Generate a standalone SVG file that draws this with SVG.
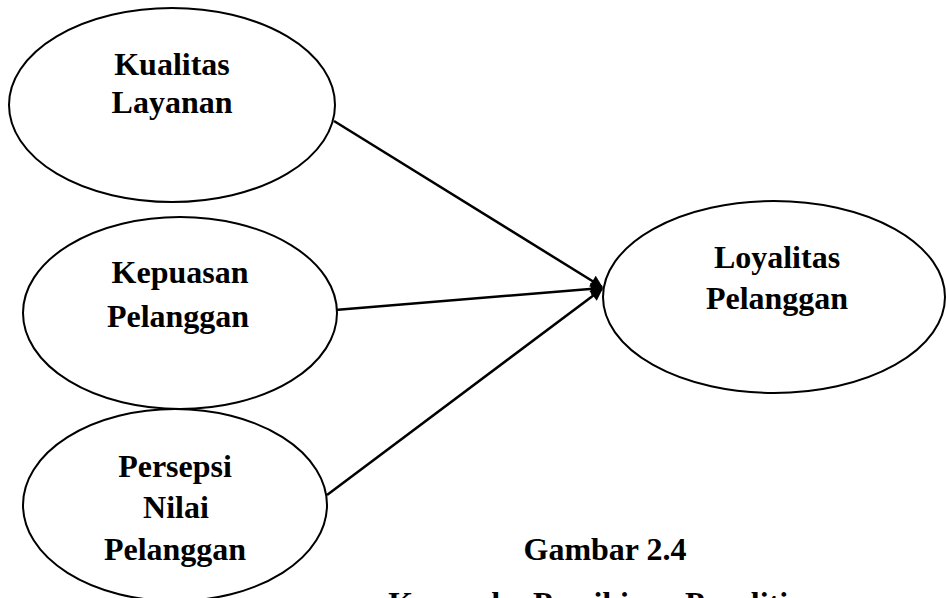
<svg xmlns="http://www.w3.org/2000/svg" width="946" height="598" viewBox="0 0 946 598">
<style>
.node ellipse{fill:#fff;stroke:#000;stroke-width:2}
.node text, .cap{font-family:"Liberation Serif","Times New Roman",serif;font-weight:bold;font-size:32px;fill:#000;text-anchor:middle}
.edges line{stroke:#000;stroke-width:2.5;fill:none}
</style>
<defs>
<marker id="ah" viewBox="0 0 10 10" refX="9" refY="5" markerWidth="6" markerHeight="5" markerUnits="strokeWidth" orient="auto">
<path d="M0,0 L10,5 L0,10 z" fill="#000"/>
</marker>
</defs>
<rect width="946" height="598" fill="#fff"/>
<g class="edges">
<line x1="334" y1="121" x2="602" y2="287" marker-end="url(#ah)"/>
<line x1="335" y1="310" x2="602" y2="288" marker-end="url(#ah)"/>
<line x1="327" y1="495" x2="602" y2="289" marker-end="url(#ah)"/>
</g>
<g id="kualitas" class="node">
<ellipse cx="172" cy="105" rx="163" ry="97"/>
<text x="172" y="75">Kualitas</text>
<text x="172" y="113">Layanan</text>
</g>
<g id="kepuasan" class="node">
<ellipse cx="180" cy="313" rx="157" ry="96"/>
<text x="180" y="283">Kepuasan</text>
<text x="178" y="327">Pelanggan</text>
</g>
<g id="persepsi" class="node">
<ellipse cx="175" cy="505" rx="152" ry="96"/>
<text x="175" y="477">Persepsi</text>
<text x="176" y="518">Nilai</text>
<text x="175" y="560">Pelanggan</text>
</g>
<g id="loyalitas" class="node">
<ellipse cx="774" cy="297" rx="171" ry="96"/>
<text x="777" y="268">Loyalitas</text>
<text x="777" y="309">Pelanggan</text>
</g>
<text class="cap" x="605" y="560">Gambar 2.4</text>
<text class="cap" x="605" y="614">Kerangka Pemikiran Penelitian</text>
</svg>
